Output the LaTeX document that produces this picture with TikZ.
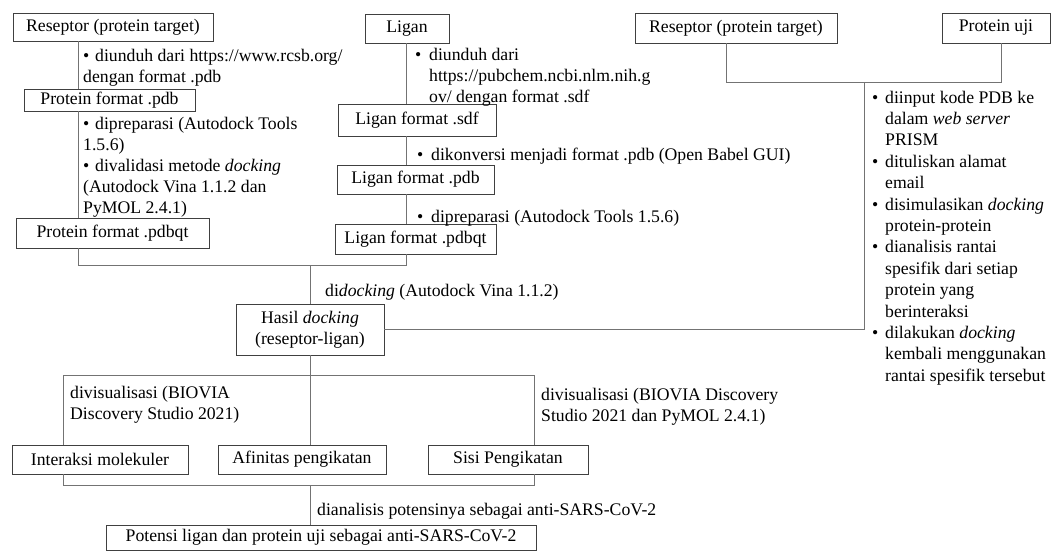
\documentclass[tikz,border=0pt]{standalone}
\usepackage{fontspec}
\setmainfont{Liberation Serif}
\newcommand{\bul}{\makebox[12pt][l]{\textbullet}}
\newcommand{\bull}{\makebox[14pt][l]{\textbullet}}
\newcommand{\ind}{\hspace*{14pt}}
\newcommand{\indr}{\hspace*{13pt}}
\newcommand{\bulr}{\makebox[13pt][l]{\textbullet}}
\begin{document}
\begin{tikzpicture}[x=1pt,y=-1pt,
  box/.style={draw=black!75, line width=0.9pt, fill=white, inner sep=0pt, align=center},
  conn/.style={draw=black!55, line width=1pt},
  lbl/.style={inner sep=0pt, anchor=base west, align=left},
  blk/.style={inner sep=0pt, anchor=north west, align=left},
  every node/.style={font=\fontsize{17.7}{21}\selectfont}]
\useasboundingbox (0,0) rectangle (1057,551);
\fill[white] (0,0) rectangle (1057,551);

% boxes
\node[box, minimum width=200, minimum height=28] (res1) at (113,27) {Reseptor (protein target)};
\node[box, minimum width=171, minimum height=22] (ppdb) at (109.5,100) {Protein format .pdb};
\node[box, minimum width=193, minimum height=30] (ppdbqt) at (112.5,233) {Protein format .pdbqt};
\node[box, minimum width=84, minimum height=29] (ligan) at (407,28.5) {Ligan};
\node[box, minimum width=158, minimum height=32] (lsdf) at (417,120) {Ligan format .sdf};
\node[box, minimum width=157, minimum height=29] (lpdb) at (415.5,179.5) {Ligan format .pdb};
\node[box, minimum width=161, minimum height=30] (lpdbqt) at (415.5,239) {Ligan format .pdbqt};
\node[box, minimum width=202, minimum height=30] (res2) at (736,28) {Reseptor (protein target)};
\node[box, minimum width=108, minimum height=30] (puji) at (996,28) {Protein uji};
\node[box, minimum width=148, minimum height=51] (hasil) at (310,329.5) {Hasil \textit{docking}\\(reseptor-ligan)};
\node[box, minimum width=176, minimum height=29] (inter) at (100,459.5) {Interaksi molekuler};
\node[box, minimum width=168, minimum height=29] (afin) at (302,459.5) {Afinitas pengikatan};
\node[box, minimum width=160, minimum height=29] (sisi) at (508,459.5) {Sisi Pengikatan};
\node[box, minimum width=430, minimum height=25] (pot) at (321,537.5) {Potensi ligan dan protein uji sebagai anti-SARS-CoV-2};

% junction coordinates
\coordinate (L) at (78,265);
\coordinate (R) at (406,265);
\coordinate (RA) at (726,82);
\coordinate (RB) at (1001,82);
\coordinate (Q) at (864,82);
\coordinate (BL) at (63,375);
\coordinate (BR) at (534,375);
\coordinate (CL) at (63,485);
\coordinate (CR) at (534,485);

% connectors
\draw[conn] (res1.south -| L) -- (ppdb.north -| L);
\draw[conn] (ppdb.south -| L) -- (ppdbqt.north -| L);
\draw[conn] (ppdbqt.south -| L) -- (L) -- (R) -- (lpdbqt.south -| R);
\draw[conn] (ligan.south -| R) -- (lsdf.north -| R);
\draw[conn] (lsdf.south -| R) -- (lpdb.north -| R);
\draw[conn] (lpdb.south -| R) -- (lpdbqt.north -| R);
\draw[conn] (hasil.north |- L) -- (hasil.north);
\draw[conn] (res2.south -| RA) -- (RA) -- (RB) -- (puji.south -| RB);
\draw[conn] (Q) -- (Q |- hasil.east) -- (hasil.east);
\draw[conn] (hasil.south) -- (afin.north -| hasil.south);
\draw[conn] (inter.north -| BL) -- (BL) -- (BR) -- (sisi.north -| BR);
\draw[conn] (inter.south -| CL) -- (CL) -- (CR) -- (sisi.south -| CR);
\draw[conn] (hasil.south |- CL) -- (pot.north -| hasil.south);

% labels
\node[blk] (t1) at (83,46.3) {\strut\bul diunduh dari https://www.rcsb.org/\\dengan format .pdb};
\node[blk] (t2) at (83,114.3) {\strut\bul dipreparasi (Autodock Tools\\1.5.6)\\\bul divalidasi metode \textit{docking}\\(Autodock Vina 1.1.2 dan\\PyMOL 2.4.1)};
\node[blk] (t3) at (415,45.3) {\strut\bull diunduh dari\\\ind https://pubchem.ncbi.nlm.nih.g\\\ind ov/ dengan format .sdf};
\node[lbl] (t4) at (417,160) {\bull dikonversi menjadi format .pdb (Open Babel GUI)};
\node[lbl] (t5) at (417,222) {\bull dipreparasi (Autodock Tools 1.5.6)};
\node[blk, font=\fontsize{17.7}{21.4}\selectfont] (t6) at (872,88) {\strut\bulr diinput kode PDB ke\\\indr dalam \textit{web server}\\\indr PRISM\\\bulr dituliskan alamat\\\indr email\\\bulr disimulasikan \textit{docking}\\\indr protein-protein\\\bulr dianalisis rantai\\\indr spesifik dari setiap\\\indr protein yang\\\indr berinteraksi\\\bulr dilakukan \textit{docking}\\\indr kembali menggunakan\\\indr rantai spesifik tersebut};
\node[lbl] (t7) at (325,296) {di\textit{docking} (Autodock Vina 1.1.2)};
\node[blk] (t8) at (70,383.3) {\strut divisualisasi (BIOVIA\\Discovery Studio 2021)};
\node[blk] (t9) at (541,385.3) {\strut divisualisasi (BIOVIA Discovery\\Studio 2021 dan PyMOL 2.4.1)};
\node[lbl] (t10) at (317,515) {dianalisis potensinya sebagai anti-SARS-CoV-2};
\end{tikzpicture}
\end{document}
